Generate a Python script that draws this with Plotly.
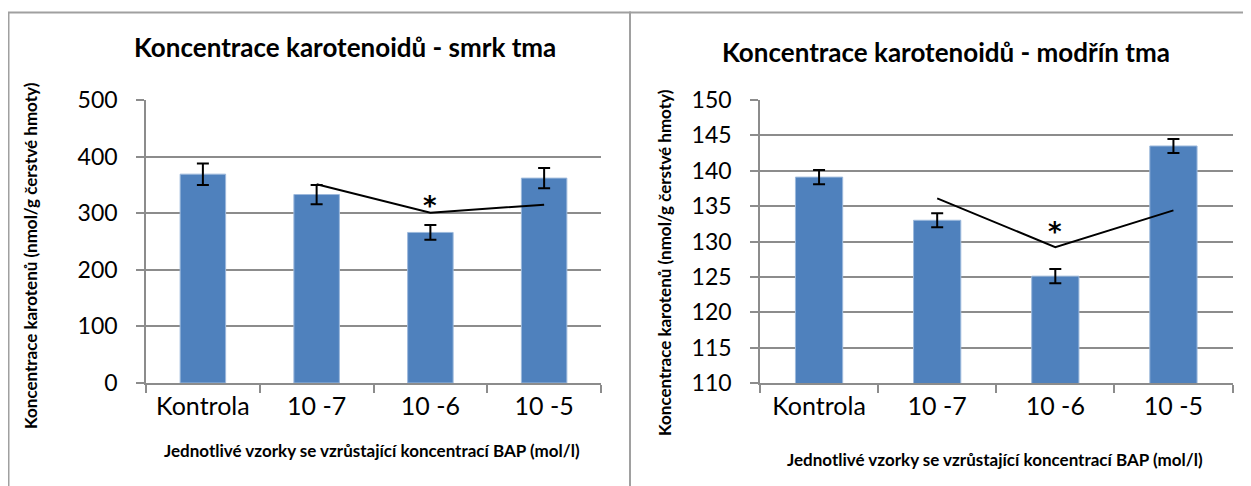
import plotly.graph_objects as go

categories = ["Kontrola", "10 -7", "10 -6", "10 -5"]

smrk_values = [369, 333, 266, 362]
smrk_errors = [19, 17, 13, 18]
smrk_trend_x = ["10 -7", "10 -6", "10 -5"]
smrk_trend_y = [351, 301, 315]
smrk_star_y = 312

modrin_values = [139.1, 133.0, 125.1, 143.5]
modrin_errors = [1.0, 1.0, 1.0, 1.0]
modrin_trend_x = ["10 -7", "10 -6", "10 -5"]
modrin_trend_y = [136.1, 129.2, 134.4]
modrin_star_y = 131.4

smrk_ticks = [0, 100, 200, 300, 400, 500]
modrin_ticks = [110, 115, 120, 125, 130, 135, 140, 145, 150]

titles = ["Koncentrace karotenoidů - smrk tma", "Koncentrace karotenoidů - modřín tma"]
ytitle = "Koncentrace karotenů (nmol/g čerstvé hmoty)"
xtitle = "Jednotlivé vzorky se vzrůstající koncentrací BAP (mol/l)"

W, H = 1251, 486
OFF = 8  # page offset of the plot div
FONT = "Lato"
BAR = "#4F81BD"
GRID = "#8C8C8C"

def px(x):
    return (x - OFF) / W

def py(y):
    return (H - (y - OFF)) / H

fig = go.Figure()

fig.add_trace(go.Bar(x=categories, y=smrk_values, xaxis="x", yaxis="y",
                     marker=dict(color=BAR, line=dict(color="#9DB9DC", width=1)),
                     error_y=dict(type="data", array=smrk_errors, color="black", thickness=2, width=6),
                     showlegend=False))
fig.add_trace(go.Scatter(x=smrk_trend_x, y=smrk_trend_y, xaxis="x", yaxis="y", mode="lines",
                         line=dict(color="black", width=2), showlegend=False))
fig.add_trace(go.Bar(x=categories, y=modrin_values, xaxis="x2", yaxis="y2",
                     marker=dict(color=BAR, line=dict(color="#9DB9DC", width=1)),
                     error_y=dict(type="data", array=modrin_errors, color="black", thickness=2, width=6),
                     showlegend=False))
fig.add_trace(go.Scatter(x=modrin_trend_x, y=modrin_trend_y, xaxis="x2", yaxis="y2", mode="lines",
                         line=dict(color="black", width=2), showlegend=False))

xaxis_common = dict(type="category", showgrid=False, showline=True, linecolor=GRID, linewidth=1.5,
                    ticks="outside", tickson="boundaries", ticklen=8, tickcolor=GRID, tickwidth=1.5,
                    tickfont=dict(family=FONT, size=25, color="black"), zeroline=False, fixedrange=True,
                    automargin=False)
yaxis_common = dict(showgrid=True, gridcolor=GRID, gridwidth=1.5, showline=True, linecolor=GRID,
                    linewidth=1.5, ticks="outside", ticklen=8, tickcolor=GRID, tickwidth=1.5,
                    ticklabelstandoff=14,
                    tickfont=dict(family=FONT, size=23, color="black"), zeroline=False, fixedrange=True,
                    automargin=False)

fig.update_layout(
    width=W, height=H, margin=dict(l=0, r=0, t=0, b=0, autoexpand=False),
    paper_bgcolor="white", plot_bgcolor="white", bargap=0.6,
    xaxis=dict(domain=[px(146), px(601)], anchor="y", **xaxis_common),
    yaxis=dict(domain=[py(383), py(100)], anchor="x", range=[0, 500], tickvals=smrk_ticks, **yaxis_common),
    xaxis2=dict(domain=[px(760), px(1232.5)], anchor="y2", **xaxis_common),
    yaxis2=dict(domain=[py(383), py(100)], anchor="x2", range=[110, 150], tickvals=modrin_ticks, **yaxis_common),
)

def note(text, x, y, size, angle=0):
    return dict(text=text, x=px(x), y=py(y), xref="paper", yref="paper", textangle=angle,
                xanchor="center", yanchor="middle", showarrow=False,
                font=dict(family=FONT, size=size, color="black"))

annotations = [
    note("<b>" + titles[0] + "</b>", 345, 47, 26),
    note("<b>" + titles[1] + "</b>", 946, 52, 26),
    note("<b>" + ytitle + "</b>", 30, 256, 17, -90),
    note("<b>" + ytitle + "</b>", 665, 262, 17, -90),
    note("<b>" + xtitle + "</b>", 372, 450, 17),
    note("<b>" + xtitle + "</b>", 995, 459, 17),
    dict(text="<b>*</b>", x="10 -6", y=smrk_star_y, xref="x", yref="y", showarrow=False,
         yanchor="middle", font=dict(family="DejaVu Sans", size=26, color="black")),
    dict(text="<b>*</b>", x="10 -6", y=modrin_star_y, xref="x2", yref="y2", showarrow=False,
         yanchor="middle", font=dict(family="DejaVu Sans", size=26, color="black")),
]
fig.update_layout(annotations=annotations)

fig.update_layout(shapes=[
    dict(type="rect", xref="paper", yref="paper", x0=px(8.5), x1=px(630), y0=-0.05, y1=py(12.5),
         line=dict(color="#A0A0A0", width=2), layer="below"),
    dict(type="rect", xref="paper", yref="paper", x0=px(630), x1=1.05, y0=-0.05, y1=py(12.5),
         line=dict(color="#A0A0A0", width=2), layer="below"),
])

fig.write_html("out.html")
